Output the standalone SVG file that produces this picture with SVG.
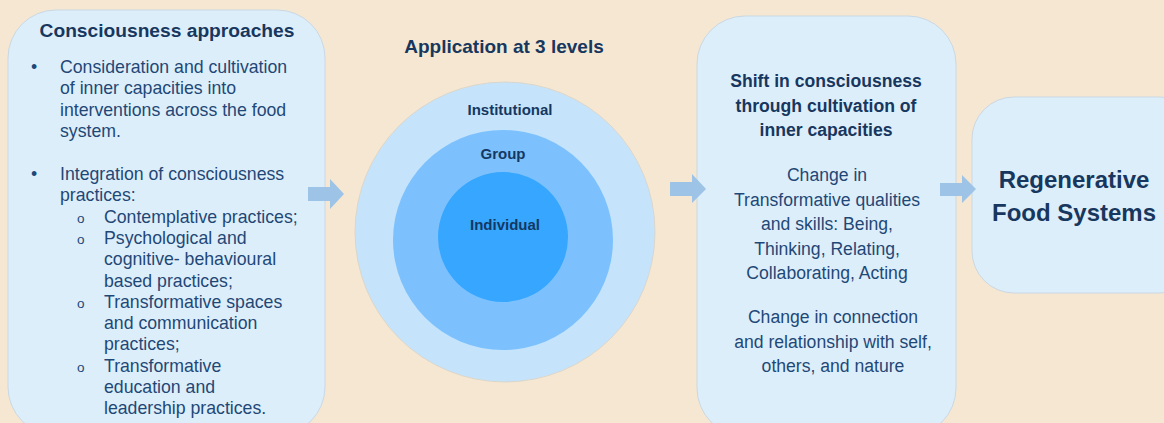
<svg xmlns="http://www.w3.org/2000/svg" width="1164" height="423" viewBox="0 0 1164 423">
<style>
text{font-family:"Liberation Sans",Arial,sans-serif;fill:#1F4876}
.b{font-weight:bold;fill:#17375E}
.box{fill:#DDEEFB;stroke:#CAD8E3;stroke-width:1}
.body{font-size:17.7px}
.mid{font-size:17.6px;text-anchor:middle}
.lvl{font-size:15px;font-weight:bold;text-anchor:middle;fill:#143862}
.arrow{fill:#9DC3E6}
</style>
<rect x="0" y="0" width="1164" height="423" fill="#F5E7D2"/>
<g id="consciousness-approaches">
<rect class="box" x="8" y="10" width="317" height="425" rx="48"/>
<text class="b" x="167" y="37" font-size="19.2" text-anchor="middle">Consciousness approaches</text>
<g class="body">
<text x="31" y="73">•</text>
<text x="60" y="73">Consideration and cultivation</text>
<text x="60" y="94.3">of inner capacities into</text>
<text x="60" y="115.6">interventions across the food</text>
<text x="60" y="136.9">system.</text>
<text x="31" y="180">•</text>
<text x="60" y="180">Integration of consciousness</text>
<text x="60" y="201.3">practices:</text>
<text x="77" y="222.6" font-size="13.5">o</text>
<text x="104" y="222.6">Contemplative practices;</text>
<text x="77" y="243.9" font-size="13.5">o</text>
<text x="104" y="243.9">Psychological and</text>
<text x="104" y="265.2">cognitive- behavioural</text>
<text x="104" y="286.5">based practices;</text>
<text x="77" y="307.8" font-size="13.5">o</text>
<text x="104" y="307.8">Transformative spaces</text>
<text x="104" y="329.1">and communication</text>
<text x="104" y="350.4">practices;</text>
<text x="77" y="371.7" font-size="13.5">o</text>
<text x="104" y="371.7">Transformative</text>
<text x="104" y="393">education and</text>
<text x="104" y="414.3">leadership practices.</text>
</g>
</g>
<g id="application-levels">
<text class="b" x="504" y="53" font-size="19" text-anchor="middle">Application at 3 levels</text>
<circle cx="505" cy="232" r="150" fill="#C5E4FB" stroke="#D9D2C4" stroke-width="0.8"/>
<circle cx="503" cy="240" r="110" fill="#7CC1FD"/>
<circle cx="503" cy="237" r="65" fill="#36A6FE"/>
<text class="lvl" x="510" y="115">Institutional</text>
<text class="lvl" x="503" y="159">Group</text>
<text class="lvl" x="505" y="230" font-size="16.3">Individual</text>
</g>
<g id="shift-consciousness">
<rect class="box" x="697" y="16" width="259" height="420" rx="48"/>
<text class="mid b" x="826" y="87">Shift in consciousness</text>
<text class="mid b" x="826" y="111.7">through cultivation of</text>
<text class="mid b" x="826" y="136.3">inner capacities</text>
<text class="mid" x="827" y="181">Change in</text>
<text class="mid" x="827" y="205.5">Transformative qualities</text>
<text class="mid" x="827" y="230">and skills: Being,</text>
<text class="mid" x="827" y="254.5">Thinking, Relating,</text>
<text class="mid" x="827" y="279">Collaborating, Acting</text>
<text class="mid" x="833" y="323">Change in connection</text>
<text class="mid" x="833" y="347.7">and relationship with self,</text>
<text class="mid" x="833" y="372.3">others, and nature</text>
</g>
<g id="regenerative-food-systems">
<rect class="box" x="972" y="97" width="230" height="196" rx="42"/>
<text class="b" x="1074" y="188" font-size="24" text-anchor="middle">Regenerative</text>
<text class="b" x="1074" y="221" font-size="24" text-anchor="middle">Food Systems</text>
</g>
<g id="connectors">
<polygon class="arrow" points="308,187 330,187 330,179 344,194 330,209 330,201 308,201"/>
<polygon class="arrow" points="670,182 692,182 692,174 706,189 692,203 692,196 670,196"/>
<polygon class="arrow" points="940,183 962,183 962,175 976,189 962,203 962,196 940,196"/>
</g>
</svg>
